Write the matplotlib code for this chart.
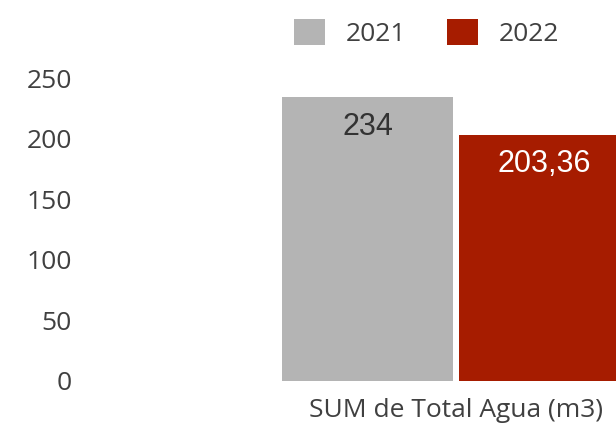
import matplotlib.pyplot as plt
from matplotlib.patches import Patch

# data
years = ["2021", "2022"]
values = [234, 203.36]
value_labels = ["234", "203,36"]
category = "SUM de Total Agua (m3)"
yticks = [0, 50, 100, 150, 200, 250]

colors = ["#B4B4B4", "#A61C00"]
label_colors = ["#333333", "white"]
text_color = "#404040"

fig = plt.figure(figsize=(6.16, 4.30), dpi=100)
ax = fig.add_axes([0.12, 0.114, 0.88, 0.7046])

width = 0.483
offsets = [-0.25, 0.25]
for off, v, c in zip(offsets, values, colors):
    ax.bar(off, v, width=width, color=c, linewidth=0)

for off, v, lab, lc in zip(offsets, values, value_labels, label_colors):
    ax.annotate(lab, (off, v), xytext=(0, -21), textcoords="offset points",
                ha="center", va="center", fontsize=22, color=lc,
                family="Liberation Sans")

ax.set_ylim(0, 250)
ax.set_xlim(-1.079, 0.452)
ax.set_yticks(yticks)
ax.set_yticklabels([str(t) for t in yticks], family="Open Sans", fontsize=19,
                   color=text_color)
ax.set_xticks([0])
ax.set_xticklabels([category], family="Open Sans", fontsize=19, color=text_color)
ax.tick_params(axis="both", length=0)
ax.tick_params(axis="y", pad=1.5)
ax.tick_params(axis="x", pad=12)
for s in ax.spines.values():
    s.set_visible(False)

handles = [Patch(facecolor=c, edgecolor="none") for c in colors]
fig.legend(handles, years, loc="center", bbox_to_anchor=(0.693, 0.923), ncol=2,
           frameon=False, prop={"family": "Open Sans", "size": 19},
           labelcolor=text_color, handlelength=1.15, handleheight=1.15,
           handletextpad=0.8, columnspacing=1.55)

fig.savefig("out.png", dpi=100)
